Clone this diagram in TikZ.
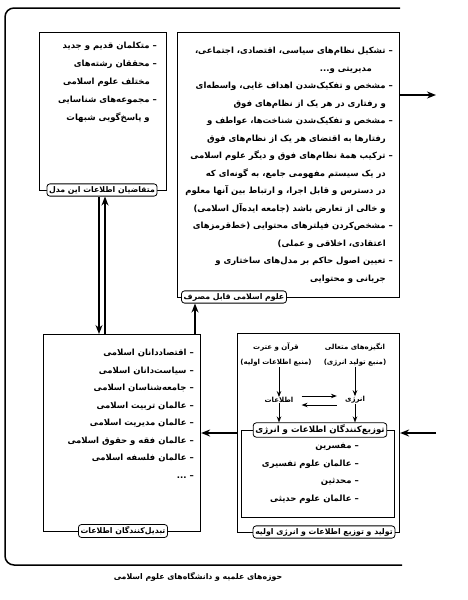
\documentclass[tikz,border=0pt]{standalone}
\usepackage{fontspec}
\newfontfamily\fa[Script=Arabic]{DejaVu Sans}
\TeXXeTstate=1
\usetikzlibrary{arrows.meta}
\newcommand{\RL}[1]{\beginR #1\endR}
\newcommand{\ind}{\hspace*{7pt}}
\begin{document}
\begin{tikzpicture}[x=1pt,y=-1pt,
  box/.style={draw, line width=1.1pt, inner sep=0pt},
  lbl/.style={draw, rounded corners=3pt, fill=white, line width=0.8pt, inner sep=2.2pt,
     font=\fa\bfseries\fontsize{7.8}{9}\selectfont},
  txt/.style={font=\fa\bfseries\fontsize{8.5}{17.5}\selectfont, align=right, inner sep=0pt},
  stxt/.style={font=\fa\bfseries\fontsize{7}{15}\selectfont, align=center, inner sep=0pt},
  arr/.style={-{Stealth[length=9pt,width=7pt]}, line width=1.8pt},
  sarr/.style={-{Stealth[length=6pt,width=4.5pt]}, line width=1pt}
  ]
\useasboundingbox (0,0) rectangle (468,600);
% outer frame
\draw[line width=1.5pt, rounded corners=9pt] (400,8) -- (5,8) -- (5,565) -- (402,565);
% boxes
\node[box, anchor=north west, minimum width=127pt, minimum height=158pt] (tl) at (39,32) {};
\node[box, anchor=north west, minimum width=222pt, minimum height=265pt] (tr) at (177,32) {};
\node[box, anchor=north west, minimum width=157pt, minimum height=197pt] (bl) at (43,334) {};
\node[box, anchor=north west, minimum width=162pt, minimum height=199pt] (br) at (237,333) {};
\node[box, anchor=north west, minimum width=153pt, minimum height=87pt] (bri) at (241,430) {};
% texts
\node[txt, anchor=north east, font=\fa\bfseries\fontsize{8.5}{18}\selectfont] (tlt) at (157,42) {%
\RL{– متکلمان قدیم و جدید}\\
\RL{– محققان رشته‌های}\\
\RL{\ind مختلف علوم اسلامی}\\
\RL{– مجموعه‌های شناسایی}\\
\RL{\ind و پاسخ‌گویی شبهات}};
\node[txt, anchor=north east] (trt) at (393,47) {%
\RL{– تشکیل نظام‌های سیاسی، اقتصادی، اجتماعی،}\\
\RL{\ind\ind\ind مدیریتی و...}\\
\RL{– مشخص و تفکیک‌شدن اهداف غایی، واسطه‌ای}\\
\RL{\ind و رفتاری در هر یک از نظام‌های فوق}\\
\RL{– مشخص و تفکیک‌شدن شناخت‌ها، عواطف و}\\
\RL{\ind رفتارها به اقتضای هر یک از نظام‌های فوق}\\
\RL{– ترکیب همهٔ نظام‌های فوق و دیگر علوم اسلامی}\\
\RL{\ind در یک سیستم مفهومی جامع، به گونه‌ای که}\\
\RL{\ind در دسترس و قابل اجرا، و ارتباط بین آنها معلوم}\\
\RL{\ind و خالی از تعارض باشد (جامعه ایده‌آل اسلامی)}\\
\RL{– مشخص‌کردن فیلترهای محتوایی (خط‌قرمزهای}\\
\RL{\ind اعتقادی، اخلاقی و عملی)}\\
\RL{– تعیین اصول حاکم بر مدل‌های ساختاری و}\\
\RL{\ind جریانی و محتوایی}};
\node[txt, anchor=north east] (blt) at (194,349) {%
\RL{– اقتصاددانان اسلامی}\\
\RL{– سیاست‌دانان اسلامی}\\
\RL{– جامعه‌شناسان اسلامی}\\
\RL{– عالمان تربیت اسلامی}\\
\RL{– عالمان مدیریت اسلامی}\\
\RL{– عالمان فقه و حقوق اسلامی}\\
\RL{– عالمان فلسفه اسلامی}\\
\RL{– ...}};
\node[txt, anchor=north east] (brit) at (359,443) {%
\RL{– مفسرین}\\
\RL{– عالمان علوم تفسیری}\\
\RL{– محدثین}\\
\RL{– عالمان علوم حدیثی}};
\node[stxt] (eng) at (355,355) {\RL{انگیزه‌های متعالی}\\\RL{(منبع تولید انرژی)}};
\node[stxt] (qur) at (276,355) {\RL{قرآن و عترت}\\\RL{(منبع اطلاعات اولیه)}};
\node[stxt] (enr) at (355,400) {\RL{انرژی}};
\node[stxt] (inf) at (279,400) {\RL{اطلاعات}};
% labels
\node[lbl] (tll) at (102,190) {\RL{متقاضیان اطلاعات این مدل}};
\node[lbl] (trl) at (234,297) {\RL{علوم اسلامی قابل مصرف}};
\node[lbl] (bll) at (123,531) {\RL{تبدیل‌کنندگان اطلاعات}};
\node[lbl] (brl) at (324,532) {\RL{تولید و توزیع اطلاعات و انرژی اولیه}};
\node[lbl, font=\fa\bfseries\fontsize{8.6}{10}\selectfont] (bril) at (320,430) {\RL{توزیع‌کنندگان اطلاعات و انرژی}};
% caption
\node[font=\fa\bfseries\fontsize{7.8}{10}\selectfont] (cap) at (198,577) {\RL{حوزه‌های علمیه و دانشگاه‌های علوم اسلامی}};
% arrows
\coordinate (trout) at (436,95);
\coordinate (brin) at (436,433);
\coordinate (upx) at (195,0);
\coordinate (dx1) at (99,0);
\coordinate (dx2) at (105,0);
\draw[arr] (tr.east |- trout) -- (trout);
\draw[arr] (brin) -- (br.east |- brin);
\draw[arr] (br.west |- brin) -- (bl.east |- brin);
\draw[arr] (bl.north -| upx) -- (trl.south -| upx);
\draw[arr, line width=1.3pt] (tll.south -| dx1) -- (bl.north -| dx1);
\draw[arr, line width=1.3pt] (bl.north -| dx2) -- (tll.south -| dx2);
\draw[sarr] (eng.south -| enr) -- (enr.north);
\draw[sarr] (qur.south -| inf) -- (inf.north);
\draw[sarr] (enr.south) -- (bril.north -| enr);
\draw[sarr] (inf.south) -- (bril.north -| inf);
\coordinate (ha) at (0,396);
\coordinate (hb) at (0,405);
\draw[sarr] ([xshift=8pt]inf.east |- ha) -- ([xshift=-8pt]enr.west |- ha);
\draw[sarr] ([xshift=-8pt]enr.west |- hb) -- ([xshift=8pt]inf.east |- hb);
\end{tikzpicture}
\end{document}
